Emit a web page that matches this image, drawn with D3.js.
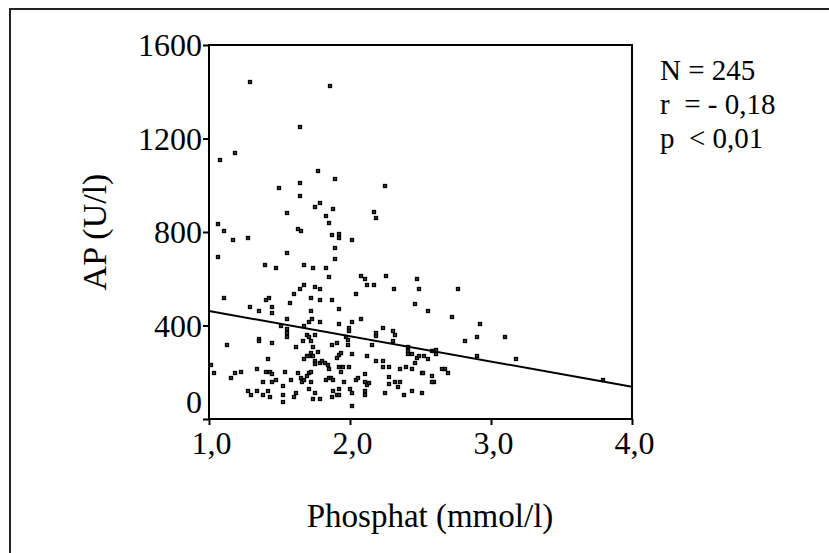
<!DOCTYPE html>
<html>
<head>
<meta charset="utf-8">
<script src="https://cdn.jsdelivr.net/npm/d3@7"></script>
<style>
  body { margin: 0; background: #fff; }
  svg text { font-family: "Liberation Serif", "Times New Roman", serif; fill: #000; }
</style>
</head>
<body>
<svg id="chart" width="829" height="553"></svg>
<script>
// phosphat (mmol/l) and AP (U/l)
var phosphat = [
  1.294, 1.859, 1.646, 1.076, 1.185, 1.770, 1.893, 1.646, 1.495, 2.246, 1.646, 1.753, 1.786, 1.876, 1.554, 1.831, 2.168, 2.186,
  1.850, 1.065, 1.109, 1.171, 1.280, 1.628, 1.649, 1.874, 1.923, 1.923, 2.014, 1.893, 1.893, 1.554, 1.065, 1.400, 1.476, 1.675,
  1.739, 1.831, 1.848, 2.075, 2.108, 2.122, 2.168, 2.044, 2.257, 2.310, 2.477, 2.489, 2.461, 2.553, 2.720, 1.675, 1.642, 1.602,
  1.753, 1.786, 1.722, 1.786, 1.874, 1.573, 1.403, 1.422, 1.107, 1.294, 1.355, 1.445, 1.445, 1.722, 1.921, 1.552, 1.734, 1.706,
  1.786, 2.014, 2.075, 1.921, 1.675, 1.509, 1.552, 1.552, 1.552, 1.692, 1.706, 1.753, 1.722, 1.739, 1.722, 1.706, 1.739, 1.666,
  1.616, 1.355, 1.355, 1.448, 1.126, 1.418, 1.675, 1.692, 1.772, 1.753, 1.753, 1.786, 1.803, 1.820, 1.843, 1.848, 1.874, 1.905,
  1.921, 1.935, 1.905, 1.921, 1.938, 1.952, 1.990, 1.973, 1.987, 1.987, 1.990, 1.990, 2.014, 2.122, 2.153, 2.182, 2.186, 2.231,
  2.308, 2.322, 2.308, 2.186, 2.231, 2.231, 2.276, 2.352, 2.397, 2.409, 2.409, 2.409, 2.442, 2.442, 2.461, 2.477, 2.491, 2.524,
  2.555, 2.610, 2.610, 2.582,
  1.012, 1.033, 1.154, 1.185, 1.230, 1.339, 1.403, 1.431, 1.445, 1.386, 1.445, 1.476, 1.280, 1.297, 1.339, 1.386, 1.418, 1.431,
  1.524, 1.524, 1.524, 1.541, 1.585, 1.602, 1.616, 1.630, 1.649, 1.659, 1.675, 1.692, 1.706, 1.722, 1.706, 1.722, 1.739, 1.753,
  1.786, 1.831, 1.848, 1.865, 1.879, 1.879, 1.872, 1.905, 1.921, 1.921, 1.954, 2.000, 2.014, 2.014, 2.044, 2.056, 2.108, 2.108,
  2.122, 2.136, 2.108, 2.108, 2.278, 2.278, 2.246, 2.322, 2.352, 2.338, 2.383, 2.442, 2.508, 2.508, 2.582, 2.596, 2.653, 2.693,
  2.677,
  2.769, 2.923, 2.814, 2.904, 3.102, 2.904, 3.180, 3.794, 2.521, 2.582
];
var ap = [
  1442, 1425, 1249, 1109, 1137, 1062, 1027, 1008, 990, 998, 953, 907, 924, 897, 880, 868, 887, 861,
  840, 833, 804, 766, 776, 814, 804, 786, 790, 776, 766, 730, 683, 711, 692, 657, 646, 657,
  646, 646, 609, 612, 600, 572, 572, 536, 610, 555, 600, 555, 491, 463, 435, 572, 555, 536,
  566, 555, 519, 509, 509, 498, 509, 518, 518, 480, 463, 480, 452, 463, 471, 426, 426, 415,
  415, 415, 426, 406, 398, 398, 384, 352, 367, 361, 352, 361, 335, 309, 284, 270, 270, 335,
  307, 344, 332, 324, 315, 258, 258, 270, 287, 247, 235, 238, 247, 238, 232, 212, 315, 324,
  272, 281, 261, 222, 202, 222, 222, 352, 338, 315, 389, 375, 277, 270, 315, 355, 367, 389,
  378, 361, 332, 249, 249, 222, 222, 212, 222, 309, 292, 278, 278, 212, 241, 261, 270, 270,
  258, 295, 278, 292,
  232, 195, 175, 195, 202, 212, 202, 202, 192, 158, 158, 167, 121, 104, 121, 101, 121, 95,
  141, 101, 73, 202, 167, 95, 110, 195, 175, 158, 167, 184, 195, 202, 130, 158, 84, 113,
  84, 167, 175, 175, 167, 121, 95, 101, 130, 101, 158, 130, 113, 56, 167, 175, 192, 158,
  147, 152, 118, 101, 178, 150, 113, 158, 158, 138, 101, 121, 113, 195, 184, 158, 212, 195,
  212,
  555, 406, 332, 351, 351, 270, 258, 167, 195, 158
];

var xTicks = [1, 2, 3, 4];
var xTickLabels = ["1,0", "2,0", "3,0", "4,0"];
var yTicks = [0, 400, 800, 1200, 1600];

// regression line end points
var fitX = [1.0, 4.0];
var fitY = [462, 138];

var statLines = ["N = 245", "r  = - 0,18", "p  < 0,01"];

var svg = d3.select("#chart");

// outer frame (only top and left edge visible)
svg.append("path")
    .attr("d", "M10,553 L10,9 L829,9")
    .attr("fill", "none")
    .attr("stroke", "#222")
    .attr("stroke-width", 2);

var plotLeft = 209, plotRight = 632, plotTop = 45, plotBottom = 419;

var x = d3.scaleLinear().domain([1, 4]).range([plotLeft, plotRight]);
var y = d3.scaleLinear().domain([0, 1600]).range([plotBottom, plotTop]);

var xAxis = svg.append("g")
    .attr("transform", "translate(0," + plotBottom + ")")
    .call(d3.axisBottom(x).tickValues(xTicks).tickSize(6).tickSizeOuter(0)
        .tickFormat(function (d, i) { return xTickLabels[i]; }));
xAxis.select(".domain").remove();
xAxis.selectAll("line").attr("stroke", "#000").attr("stroke-width", 2);
xAxis.selectAll("text")
    .attr("font-size", 32)
    .attr("dy", 0)
    .attr("y", 35)
    .attr("dx", 2);

var yAxis = svg.append("g")
    .attr("transform", "translate(" + plotLeft + ",0)")
    .call(d3.axisLeft(y).tickValues(yTicks).tickSize(6).tickPadding(1).tickSizeOuter(0)
        .tickFormat(d3.format("d")));
yAxis.select(".domain").remove();
yAxis.selectAll("line").attr("stroke", "#000").attr("stroke-width", 2);
yAxis.selectAll("text")
    .attr("font-size", 32)
    .attr("dy", "0.34em");
// the 0 label sits a bit above its tick
yAxis.selectAll(".tick").filter(function (d) { return d === 0; })
    .select("text").attr("y", -17);

// plot frame
svg.append("rect")
    .attr("x", plotLeft)
    .attr("y", plotTop)
    .attr("width", plotRight - plotLeft)
    .attr("height", plotBottom - plotTop)
    .attr("fill", "none")
    .attr("stroke", "#000")
    .attr("stroke-width", 2);

// points
svg.append("g").selectAll("rect")
    .data(phosphat)
    .enter().append("rect")
    .attr("x", function (d) { return Math.round(x(d)) - 1.5; })
    .attr("y", function (d, i) { return Math.round(y(ap[i])) - 1.5; })
    .attr("width", 3)
    .attr("height", 3)
    .attr("fill", "#444")
    .attr("stroke", "#000")
    .attr("stroke-width", 1.3);

// regression line
svg.append("line")
    .attr("x1", x(fitX[0]))
    .attr("y1", y(fitY[0]))
    .attr("x2", x(fitX[1]))
    .attr("y2", y(fitY[1]))
    .attr("stroke", "#000")
    .attr("stroke-width", 2);

// axis titles
svg.append("text")
    .attr("transform", "translate(106," + ((plotTop + plotBottom) / 2) + ") rotate(-90)")
    .attr("text-anchor", "middle")
    .attr("font-size", 34)
    .text("AP (U/l)");

svg.append("text")
    .attr("x", 430)
    .attr("y", 527)
    .attr("text-anchor", "middle")
    .attr("font-size", 33)
    .text("Phosphat (mmol/l)");

// stats block
svg.append("g").selectAll("text")
    .data(statLines)
    .enter().append("text")
    .attr("x", 660)
    .attr("y", function (d, i) { return 80 + i * 34; })
    .attr("font-size", 29)
    .style("white-space", "pre")
    .text(function (d) { return d; });
</script>
</body>
</html>
